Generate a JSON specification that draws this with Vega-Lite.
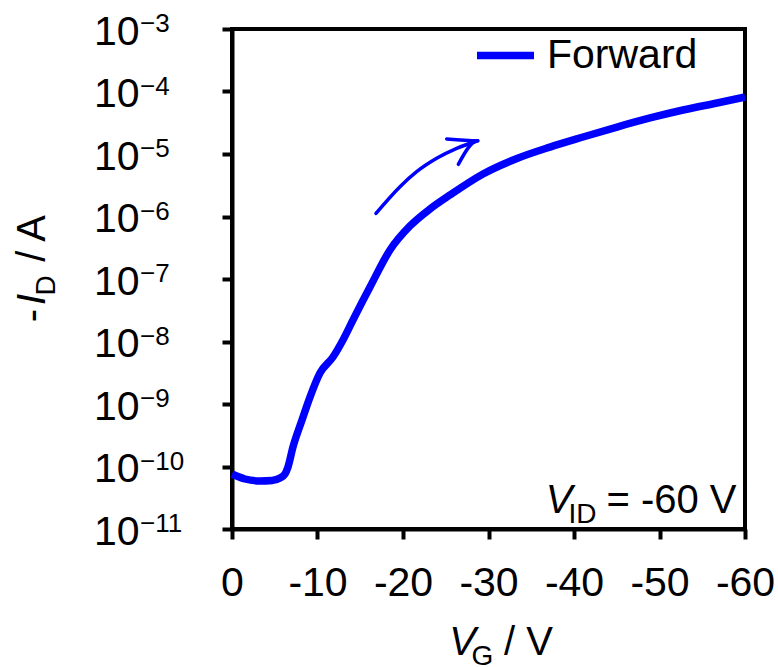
{
  "$schema": "https://vega.github.io/schema/vega-lite/v6.json",
  "width": 513,
  "height": 500,
  "autosize": {"type": "none"},
  "padding": {"left": 232, "top": 29, "right": 33, "bottom": 138},
  "background": "white",
  "config": {
    "font": "Liberation Sans",
    "view": {"stroke": "black", "strokeWidth": 4},
    "axis": {"grid": false, "domainColor": "black", "domainWidth": 4, "tickColor": "black", "tickWidth": 4, "tickSize": 10, "labelColor": "black", "labelFont": "Liberation Sans", "labelFontSize": 41, "labelFlush": false, "labelOverlap": false, "labelBound": false, "title": null}
  },
  "datasets": {
    "curve": [
      {"V": 0, "I": 7.59e-11, "series": "Forward"},
      {"V": -1.52, "I": 6.31e-11, "series": "Forward"},
      {"V": -3.27, "I": 5.86e-11, "series": "Forward"},
      {"V": -4.68, "I": 5.97e-11, "series": "Forward"},
      {"V": -5.61, "I": 6.55e-11, "series": "Forward"},
      {"V": -6.2, "I": 7.59e-11, "series": "Forward"},
      {"V": -6.55, "I": 9.82e-11, "series": "Forward"},
      {"V": -7.13, "I": 2.05e-10, "series": "Forward"},
      {"V": -8.19, "I": 5.55e-10, "series": "Forward"},
      {"V": -9.12, "I": 1.29e-9, "series": "Forward"},
      {"V": -10.29, "I": 3.13e-9, "series": "Forward"},
      {"V": -11.81, "I": 5.65e-9, "series": "Forward"},
      {"V": -12.98, "I": 1.06e-8, "series": "Forward"},
      {"V": -14.15, "I": 2.21e-8, "series": "Forward"},
      {"V": -16.14, "I": 7.45e-8, "series": "Forward"},
      {"V": -18.48, "I": 2.91e-7, "series": "Forward"},
      {"V": -20.82, "I": 7.05e-7, "series": "Forward"},
      {"V": -23.16, "I": 1.32e-6, "series": "Forward"},
      {"V": -25.5, "I": 2.21e-6, "series": "Forward"},
      {"V": -29.36, "I": 4.79e-6, "series": "Forward"},
      {"V": -33.33, "I": 8.47e-6, "series": "Forward"},
      {"V": -37.19, "I": 1.29e-5, "series": "Forward"},
      {"V": -41.05, "I": 1.87e-5, "series": "Forward"},
      {"V": -45.03, "I": 2.7e-5, "series": "Forward"},
      {"V": -48.89, "I": 3.77e-5, "series": "Forward"},
      {"V": -52.75, "I": 5.06e-5, "series": "Forward"},
      {"V": -56.73, "I": 6.55e-5, "series": "Forward"},
      {"V": -60, "I": 8.17e-5, "series": "Forward"}
    ],
    "arrow": [
      {"part": "arc", "k": 1, "V": -16.84, "I": 1.12e-6},
      {"part": "arc", "k": 2, "V": -19.65, "I": 3.0e-6},
      {"part": "arc", "k": 3, "V": -21.6, "I": 5.21e-6},
      {"part": "arc", "k": 4, "V": -23.94, "I": 8.53e-6},
      {"part": "arc", "k": 5, "V": -26.28, "I": 1.23e-5},
      {"part": "arc", "k": 6, "V": -28.74, "I": 1.63e-5},
      {"part": "head", "k": 1, "V": -25.11, "I": 1.74e-5},
      {"part": "head", "k": 2, "V": -28.74, "I": 1.63e-5},
      {"part": "head", "k": 3, "V": -26.47, "I": 6.84e-6}
    ],
    "exps": [
      {"t": 1e-3, "e": "−3"},
      {"t": 1e-4, "e": "−4"},
      {"t": 1e-5, "e": "−5"},
      {"t": 1e-6, "e": "−6"},
      {"t": 1e-7, "e": "−7"},
      {"t": 1e-8, "e": "−8"},
      {"t": 1e-9, "e": "−9"},
      {"t": 1e-10, "e": "−10"},
      {"t": 1e-11, "e": "−11"}
    ],
    "one": [{}]
  },
  "layer": [
    {
      "data": {"name": "curve"},
      "mark": {"type": "line", "strokeWidth": 7.5, "interpolate": "monotone"},
      "encoding": {
        "x": {"field": "V", "type": "quantitative", "scale": {"domain": [-60, 0], "reverse": true, "nice": false, "zero": false},
          "axis": {"values": [0, -10, -20, -30, -40, -50, -60], "labelBaseline": "alphabetic", "labelPadding": 56, "labelExpr": "datum.value == 0 ? '0' : '-' + format(-datum.value, 'd')"}},
        "y": {"field": "I", "type": "quantitative", "scale": {"type": "log", "domain": [1e-11, 1e-3], "nice": false},
          "axis": {"values": [1e-11, 1e-10, 1e-9, 1e-8, 1e-7, 1e-6, 1e-5, 1e-4, 1e-3], "labelExpr": "'10'", "labelBaseline": "alphabetic", "labelOffset": 15, "labelPadding": 83}},
        "color": {"field": "series", "type": "nominal", "scale": {"range": ["#0000ff"]},
          "legend": {"title": null, "orient": "none", "legendX": 241, "legendY": -6, "symbolType": "stroke", "symbolStrokeWidth": 7.5, "symbolSize": 3249, "labelFontSize": 41, "labelFont": "Liberation Sans", "labelColor": "black", "labelOffset": 9, "padding": 0}}
      }
    },
    {
      "data": {"name": "arrow"},
      "mark": {"type": "line", "strokeWidth": 3.5, "color": "#0000ff", "strokeCap": "round", "strokeJoin": "round", "interpolate": "monotone"},
      "encoding": {
        "x": {"field": "V", "type": "quantitative"},
        "y": {"field": "I", "type": "quantitative"},
        "detail": {"field": "part"},
        "order": {"field": "k"}
      }
    },
    {
      "data": {"name": "exps"},
      "mark": {"type": "text", "align": "left", "baseline": "alphabetic", "dx": -92, "dy": 3, "fontSize": 26, "font": "Liberation Sans", "color": "black"},
      "encoding": {
        "x": {"datum": 0, "type": "quantitative"},
        "y": {"field": "t", "type": "quantitative"},
        "text": {"field": "e"}
      }
    },
    {
      "data": {"name": "one"},
      "mark": {"type": "text", "text": "V", "fontStyle": "italic", "align": "center", "baseline": "alphabetic", "fontSize": 40, "dx": -186, "dy": -16, "color": "black"},
      "encoding": {"x": {"datum": -60, "type": "quantitative"}, "y": {"datum": 1e-11, "type": "quantitative"}}
    },
    {
      "data": {"name": "one"},
      "mark": {"type": "text", "text": "ID", "align": "center", "baseline": "alphabetic", "fontSize": 28, "dx": -162.5, "dy": -6, "color": "black"},
      "encoding": {"x": {"datum": -60, "type": "quantitative"}, "y": {"datum": 1e-11, "type": "quantitative"}}
    },
    {
      "data": {"name": "one"},
      "mark": {"type": "text", "text": "= -60 V", "align": "center", "baseline": "alphabetic", "fontSize": 40, "dx": -73.5, "dy": -16, "color": "black"},
      "encoding": {"x": {"datum": -60, "type": "quantitative"}, "y": {"datum": 1e-11, "type": "quantitative"}}
    },
    {
      "data": {"name": "one"},
      "mark": {"type": "text", "text": "V", "fontStyle": "italic", "align": "center", "baseline": "alphabetic", "fontSize": 40, "dx": -26, "dy": 126, "color": "black"},
      "encoding": {"x": {"datum": -30, "type": "quantitative"}, "y": {"datum": 1e-11, "type": "quantitative"}}
    },
    {
      "data": {"name": "one"},
      "mark": {"type": "text", "text": "G", "align": "center", "baseline": "alphabetic", "fontSize": 28, "dx": -6, "dy": 136, "color": "black"},
      "encoding": {"x": {"datum": -30, "type": "quantitative"}, "y": {"datum": 1e-11, "type": "quantitative"}}
    },
    {
      "data": {"name": "one"},
      "mark": {"type": "text", "text": "/ V", "align": "center", "baseline": "alphabetic", "fontSize": 40, "dx": 40, "dy": 126, "color": "black"},
      "encoding": {"x": {"datum": -30, "type": "quantitative"}, "y": {"datum": 1e-11, "type": "quantitative"}}
    },
    {
      "data": {"name": "one"},
      "mark": {"type": "text", "text": "-", "angle": 270, "align": "center", "baseline": "alphabetic", "fontSize": 40, "dx": -36.5, "dy": -187, "color": "black"},
      "encoding": {"x": {"datum": 0, "type": "quantitative"}, "y": {"datum": 1e-7, "type": "quantitative"}}
    },
    {
      "data": {"name": "one"},
      "mark": {"type": "text", "text": "I", "fontStyle": "italic", "angle": 270, "align": "center", "baseline": "alphabetic", "fontSize": 40, "dx": -20.5, "dy": -187, "color": "black"},
      "encoding": {"x": {"datum": 0, "type": "quantitative"}, "y": {"datum": 1e-7, "type": "quantitative"}}
    },
    {
      "data": {"name": "one"},
      "mark": {"type": "text", "text": "D", "angle": 270, "align": "center", "baseline": "alphabetic", "fontSize": 28, "dx": -6.5, "dy": -177, "color": "black"},
      "encoding": {"x": {"datum": 0, "type": "quantitative"}, "y": {"datum": 1e-7, "type": "quantitative"}}
    },
    {
      "data": {"name": "one"},
      "mark": {"type": "text", "text": "/ A", "angle": 270, "align": "center", "baseline": "alphabetic", "fontSize": 40, "dx": 40.5, "dy": -187, "color": "black"},
      "encoding": {"x": {"datum": 0, "type": "quantitative"}, "y": {"datum": 1e-7, "type": "quantitative"}}
    }
  ]
}
